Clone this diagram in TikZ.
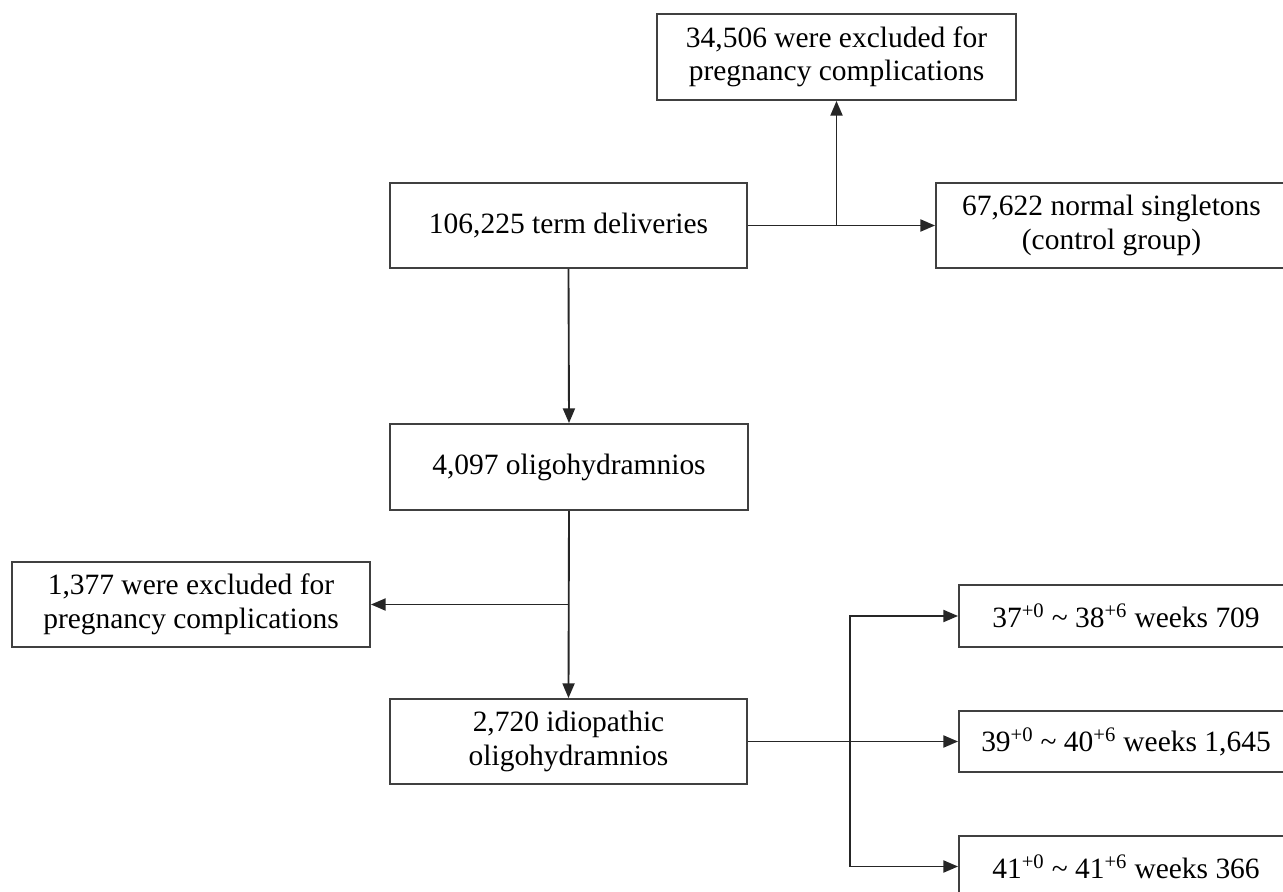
\documentclass[tikz,border=0pt]{standalone}
\usepackage{fontspec}
\setmainfont{Liberation Serif}
\usetikzlibrary{arrows.meta}
\begin{document}
\begin{tikzpicture}[x=0.75pt,y=-0.75pt,
  box/.style={draw=black!75, line width=1.4pt, fill=white, align=center, inner sep=0pt,
    font=\fontsize{22.1}{25.2}\selectfont},
  conn/.style={draw=black!85, line width=1.4pt},
  arr/.style={conn, -{Triangle[length=11pt,width=9pt]}}]
\useasboundingbox (0,0) rectangle (1283,892);
\clip (0,0) rectangle (1283,892);
\fill[white] (0,0) rectangle (1283,892);

\node[box, minimum width=269.25pt, minimum height=64.5pt] (excl1) at (836.5,57)
  {34,506 were excluded for\\pregnancy complications};
\node[box, minimum width=267.75pt, minimum height=63.75pt] (term) at (568.5,225.5)
  {106,225 term deliveries};
\node[box, minimum width=263.25pt, minimum height=63.75pt] (ctrl) at (1111.5,225.5)
  {67,622 normal singletons\\(control group)};
\node[box, minimum width=268.5pt, minimum height=64.5pt] (oligo) at (569,467)
  {4,097 oligohydramnios};
\node[box, minimum width=268.5pt, minimum height=63.75pt] (excl2) at (191,604.5)
  {1,377 were excluded for\\pregnancy complications};
\node[box, minimum width=267.75pt, minimum height=63.75pt] (idio) at (568.5,741.5)
  {2,720 idiopathic\\oligohydramnios};
\node[box, minimum width=250.5pt, minimum height=46.5pt] (w37) at (1126,616)
  {37\textsuperscript{+0} \textasciitilde{} 38\textsuperscript{+6} weeks 709};
\node[box, minimum width=250.5pt, minimum height=45.75pt] (w39) at (1126,741.5)
  {39\textsuperscript{+0} \textasciitilde{} 40\textsuperscript{+6} weeks 1,645};
\node[box, minimum width=250.5pt, minimum height=45.75pt] (w41) at (1126,866.5)
  {41\textsuperscript{+0} \textasciitilde{} 41\textsuperscript{+6} weeks 366};

% top branch
\coordinate (j1) at (836.5,225.5);
\draw[arr] (term.east) -- (ctrl.west);
\draw[arr] (j1) -- (excl1.south);
\draw[arr] (term.south) -- (oligo.north);

% oligo branch
\coordinate (j2) at (569,604.5);
\draw[arr] (oligo.south) -- (idio.north);
\draw[arr] (j2) -- (excl2.east);

% week branches
\coordinate (j3t) at (850,616);
\coordinate (j3b) at (850,866.5);
\draw[arr] (idio.east) -- (w39.west);
\draw[arr] (j3b) -- (j3t) -- (w37.west);
\draw[arr] (j3t) -- (j3b) -- (w41.west);
\end{tikzpicture}
\end{document}
